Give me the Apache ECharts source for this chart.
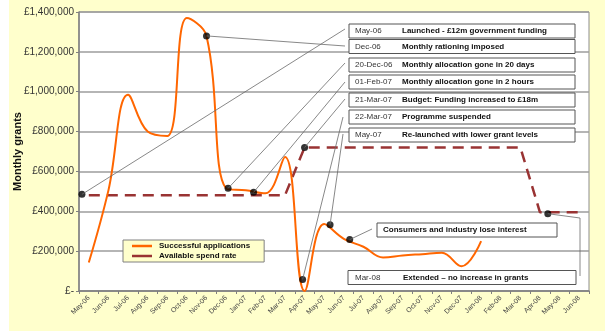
<!DOCTYPE html>
<html>
<head>
<meta charset="utf-8">
<script src="https://cdn.jsdelivr.net/npm/echarts@6/dist/echarts.min.js"></script>
<style>
  html, body { margin: 0; padding: 0; background: #ffffff; }
  #chart { width: 605px; height: 331px; }
</style>
</head>
<body>
<div id="chart"></div>
<script>
// Monthly categories, May 2006 to June 2008
const months = ['May-06','Jun-06','Jul-06','Aug-06','Sep-06','Oct-06','Nov-06','Dec-06',
  'Jan-07','Feb-07','Mar-07','Apr-07','May-07','Jun-07','Jul-07','Aug-07','Sep-07','Oct-07',
  'Nov-07','Dec-07','Jan-08','Feb-08','Mar-08','Apr-08','May-08','Jun-08'];

// Value of successful grant applications per month (GBP)
const successful = [143000, 505000, 985000, 800000, 778000, 1370000, 1280000, 515000,
  505000, 490000, 672000, 0, 336000, 262000, 222000, 168000, 178000, 185000,
  192000, 124000, 250000, null, null, null, null, null];

// Available monthly spend rate (GBP)
const spendRate = [480000, 480000, 480000, 480000, 480000, 480000, 480000, 480000,
  480000, 480000, 480000, 720000, 720000, 720000, 720000, 720000, 720000, 720000,
  720000, 720000, 720000, 720000, 720000, 395000, 395000, 395000];

// Timeline events: position in months from the start of May-06, and level (GBP)
const eventDates = ['May-06','Dec-06','20-Dec-06','01-Feb-07','21-Mar-07','22-Mar-07','May-07','','Mar-08'];
const eventTexts = ['Launched - \u00a312m government funding','Monthly rationing imposed',
  'Monthly allocation gone in 20 days','Monthly allocation gone in 2 hours',
  'Budget: Funding increased to \u00a318m','Programme suspended','Re-launched with lower grant levels',
  'Consumers and industry lose interest','Extended \u2013 no increase in grants'];
const eventMonth = [0.15, 6.5, 7.6, 8.9, 11.5, 11.4, 12.8, 13.8, 23.9];
const eventValue = [485000, 1280000, 515000, 495000, 720000, 58000, 333000, 258000, 388000];

// Y-axis tick settings
const yMin = 0, yMax = 1400000, yStep = 200000;

const FONT = 'Arial, "Liberation Sans", sans-serif';

// Callout box layout: [left, centre y, width, date x offset, text x offset]
const boxLayout = [
  [349, 31, 226, 6, 53],
  [349, 46.5, 226, 6, 53],
  [349, 65, 226, 6, 53],
  [349, 82, 226, 6, 53],
  [349, 100, 226, 6, 53],
  [349, 117, 226, 6, 53],
  [349, 135, 226, 6, 53],
  [377, 230, 180, 0, 6],
  [348, 277.5, 228, 7, 55]
];
// Where each leader line meets its box (pixel anchor), optional elbow
const leaderEnds = [
  [[345, 29]], [[345, 46]], [[345, 63]], [[345, 82]], [[345, 99]],
  [[343, 117]], [[343, 134]], [[372, 229]], [[580, 218], [580, 276]]
];

const chart = echarts.init(document.getElementById('chart'), null, { renderer: 'canvas' });

function money(v) {
  if (v === 0) return '\u00a3-';
  return '\u00a3' + v.toString().replace(/\B(?=(\d{3})+(?!\d))/g, ',');
}

chart.setOption({
  backgroundColor: '#FFFFCC',
  animation: false,
  textStyle: { fontFamily: FONT },
  grid: {
    left: 79, right: 16, top: 12, bottom: 40,
    containLabel: false, outerBoundsMode: 'none',
    show: true, backgroundColor: '#ffffff', borderColor: '#8c8c8c', borderWidth: 1
  },
  legend: {
    orient: 'vertical',
    left: 123, top: 240,
    backgroundColor: '#FFFFCC',
    borderColor: '#808080', borderWidth: 1,
    padding: [2, 14, 2, 9],
    itemGap: 2,
    itemWidth: 20, itemHeight: 2.5,
    textStyle: { fontFamily: FONT, fontSize: 8, fontWeight: 'bold', color: '#111', padding: [0, 0, 0, 2] },
    data: [
      { name: 'Successful applications', icon: 'rect' },
      { name: 'Available spend rate', icon: 'rect' }
    ]
  },
  xAxis: [
    {
      type: 'category', data: months, boundaryGap: true,
      axisLine: { lineStyle: { color: '#808080', width: 1.5 } },
      axisTick: { show: true, length: 3, lineStyle: { color: '#808080' } },
      axisLabel: { rotate: 45, fontSize: 7, color: '#444', margin: 6, interval: 0 },
      splitLine: { show: false }
    },
    {
      type: 'value', min: 0, max: months.length, show: false
    }
  ],
  yAxis: {
    type: 'value', min: yMin, max: yMax, interval: yStep,
    name: 'Monthly grants', nameLocation: 'middle', nameGap: 56, nameMoveOverlap: false,
    nameTextStyle: { fontFamily: FONT, fontSize: 11, fontWeight: 'bold', color: '#111' },
    axisLine: { show: true, lineStyle: { color: '#808080', width: 1.5 } },
    axisTick: { show: true, length: 3, lineStyle: { color: '#808080' } },
    axisLabel: { fontSize: 10, color: '#333', margin: 5, formatter: money },
    splitLine: { lineStyle: { color: '#9c9c9c', width: 1.5 } }
  },
  series: [
    {
      name: 'Successful applications', type: 'line', data: successful,
      smooth: 0.4, showSymbol: false, symbol: 'none', connectNulls: false,
      lineStyle: { color: '#FF6600', width: 2 }, itemStyle: { color: '#FF6600' },
      z: 3
    },
    {
      name: 'Available spend rate', type: 'line', data: spendRate,
      showSymbol: false, symbol: 'none',
      lineStyle: { color: '#993333', width: 2.5, type: [11, 7] }, itemStyle: { color: '#993333' },
      z: 2
    },
    {
      name: 'events', type: 'scatter', xAxisIndex: 1, yAxisIndex: 0,
      data: eventMonth.map((m, i) => [m, eventValue[i]]),
      symbol: 'circle', symbolSize: 7,
      itemStyle: { color: '#000' },
      z: 6
    }
  ]
});

// Leader lines and callout boxes
const graphics = [{
  type: 'rect', shape: { x: 0, y: 0, width: 9, height: 331 },
  style: { fill: '#ffffff' }, z: 100
}];
eventMonth.forEach((m, i) => {
  const p = chart.convertToPixel({ xAxisIndex: 1, yAxisIndex: 0 }, [m, eventValue[i]]);
  const pts = [p].concat(leaderEnds[i]);
  graphics.push({
    type: 'polyline', shape: { points: pts },
    style: { stroke: '#6a6a6a', lineWidth: 0.8, fill: null }, z: 50
  });
  const b = boxLayout[i];
  graphics.push({
    type: 'rect', shape: { x: b[0], y: b[1] - 7, width: b[2], height: 14 },
    style: { fill: '#ffffff', stroke: '#555555', lineWidth: 1 }, z: 60
  });
  if (eventDates[i]) {
    graphics.push({
      type: 'text', x: b[0] + b[3], y: b[1],
      style: { text: eventDates[i], font: '8px ' + FONT, fill: '#333', verticalAlign: 'middle' }, z: 61
    });
  }
  graphics.push({
    type: 'text', x: b[0] + b[4], y: b[1],
    style: { text: eventTexts[i], font: 'bold 8px ' + FONT, fill: '#111', verticalAlign: 'middle' }, z: 61
  });
});
chart.setOption({ graphic: graphics });
</script>
</body>
</html>
